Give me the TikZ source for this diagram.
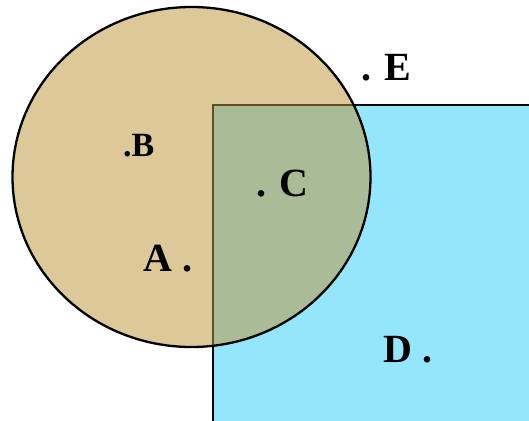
\documentclass[tikz,border=0pt]{standalone}
\usepackage{fontspec}
\setmainfont{Liberation Serif}
\usetikzlibrary{positioning}
\definecolor{setblue}{RGB}{148,230,252}
\definecolor{settan}{RGB}{190,150,60}

\begin{document}
\begin{tikzpicture}[x=1pt, y=-1pt,
    region/.style={draw=black, line width=2.3pt},
    ptlabel/.style={inner sep=0pt, anchor=base west, font=\fontsize{40}{44}\selectfont\bfseries},
    smalllabel/.style={ptlabel, font=\fontsize{34}{38}\selectfont\bfseries}]

\clip (0,0) rectangle (529,420);
\fill[white] (0,0) rectangle (529,420);

% set D (square) and set B (circle)
\draw[region, fill=setblue] (213,105) rectangle (560,450);
\draw[region, fill=settan, fill opacity=0.52] (191.5,177) ellipse [x radius=179, y radius=170];

\node[ptlabel] (E) at (361,80) {. E};
\node[smalllabel] (B) at (123,156) {.B};
\node[ptlabel] (C) at (256,196) {. C};
\node[ptlabel] (A) at (143,271) {A .};
\node[ptlabel] (D) at (383,362) {D .};
\end{tikzpicture}
\end{document}
